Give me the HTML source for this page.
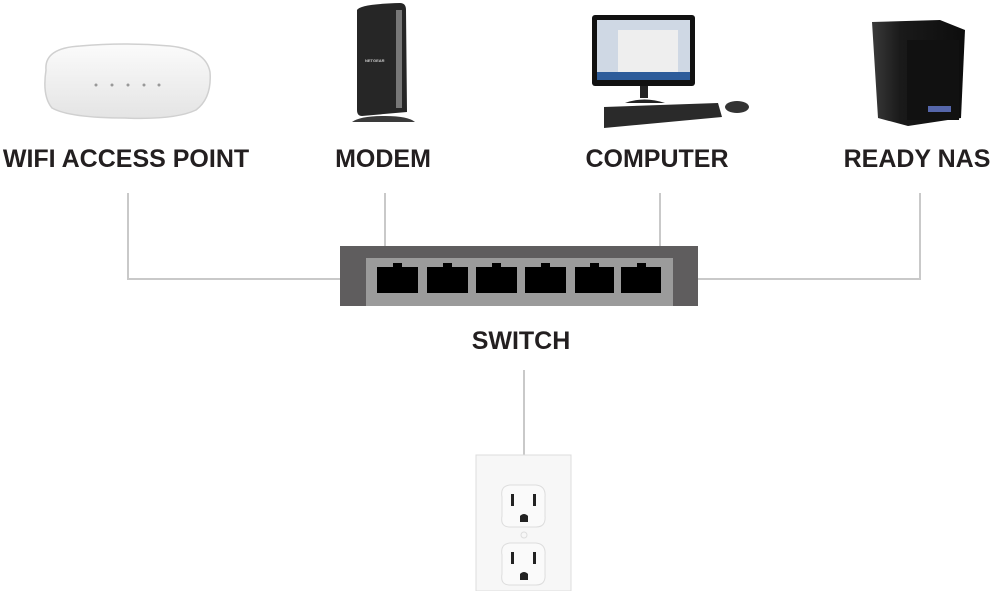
<!DOCTYPE html>
<html><head><meta charset="utf-8"><style>
html,body{margin:0;padding:0;background:#fff;}
svg{display:block;}
text{font-family:"Liberation Sans",sans-serif;font-weight:bold;fill:#231f20;font-size:25px;}
</style></head><body>
<svg width="995" height="591" viewBox="0 0 995 591" xmlns="http://www.w3.org/2000/svg">
<defs>
<linearGradient id="ap" x1="0" y1="0" x2="0" y2="1"><stop offset="0" stop-color="#fbfbfb"/><stop offset="1" stop-color="#e4e4e4"/></linearGradient>
<linearGradient id="nas" x1="0" y1="0" x2="1" y2="0"><stop offset="0" stop-color="#3a3a3a"/><stop offset="0.3" stop-color="#1a1a1a"/><stop offset="1" stop-color="#0d0d0d"/></linearGradient>
</defs>
<!-- connectors -->
<g stroke="#c9c9c9" stroke-width="2" fill="none">
<polyline points="128,193 128,279 340,279"/>
<line x1="385" y1="193" x2="385" y2="246"/>
<line x1="660" y1="193" x2="660" y2="246"/>
<polyline points="920,193 920,279 698,279"/>
<line x1="524" y1="370" x2="524" y2="456"/>
</g>
<!-- wifi AP -->
<path d="M46,70 Q44,48 80,46 Q125,42 170,46 Q206,50 210,72 Q212,98 196,110 Q175,120 125,118 Q70,118 52,108 Q42,96 46,70 Z" fill="url(#ap)" stroke="#d0d0d0" stroke-width="1.5"/>
<g fill="#999"><circle cx="96" cy="85" r="1.5"/><circle cx="112" cy="85" r="1.5"/><circle cx="128" cy="85" r="1.5"/><circle cx="144" cy="85" r="1.5"/><circle cx="159" cy="85" r="1.5"/></g>
<!-- modem -->
<path d="M357,10 Q360,4 400,3 Q406,3 406,10 L407,112 L362,116 Q357,116 357,110 Z" fill="#262626"/>
<rect x="396" y="10" width="6" height="98" fill="#777"/>
<path d="M352,122 Q360,116 385,116 Q408,116 415,122 Z" fill="#3a3a3a"/>
<text x="365" y="62" style="font-size:4px;fill:#ccc">NETGEAR</text>
<!-- computer -->
<rect x="592" y="15" width="103" height="71" rx="3" fill="#111"/>
<rect x="597" y="20" width="93" height="60" fill="#cfd8e4"/>
<rect x="618" y="30" width="60" height="42" fill="#eee"/>
<rect x="597" y="72" width="93" height="8" fill="#2d5c9a"/>
<rect x="640" y="86" width="8" height="12" fill="#222"/>
<path d="M625,103 Q644,96 665,103 Z" fill="#222"/>
<path d="M604,107 L718,103 L722,117 L604,128 Z" fill="#2a2a2a"/>
<ellipse cx="737" cy="107" rx="12" ry="6" fill="#333"/>
<!-- NAS -->
<path d="M872,22 L940,20 L965,30 L961,118 L908,126 L878,118 Z" fill="url(#nas)"/>
<rect x="907" y="40" width="52" height="80" fill="#111"/>
<rect x="928" y="106" width="23" height="6" fill="#5566aa"/>
<!-- switch -->
<rect x="340" y="246" width="358" height="60" fill="#5f5d5e"/>
<rect x="366" y="258" width="307" height="48" fill="#9b9b9b"/>
<g fill="#000">
<rect x="377" y="267" width="41" height="26"/><rect x="393" y="263" width="9" height="5"/>
<rect x="427" y="267" width="41" height="26"/><rect x="443" y="263" width="9" height="5"/>
<rect x="476" y="267" width="41" height="26"/><rect x="492" y="263" width="9" height="5"/>
<rect x="525" y="267" width="41" height="26"/><rect x="541" y="263" width="9" height="5"/>
<rect x="575" y="267" width="39" height="26"/><rect x="590" y="263" width="9" height="5"/>
<rect x="621" y="267" width="40" height="26"/><rect x="637" y="263" width="9" height="5"/>
</g>
<!-- labels -->
<text x="126" y="167" text-anchor="middle">WIFI ACCESS POINT</text>
<text x="383" y="167" text-anchor="middle">MODEM</text>
<text x="657" y="167" text-anchor="middle">COMPUTER</text>
<text x="917" y="167" text-anchor="middle">READY NAS</text>
<text x="521" y="349" text-anchor="middle">SWITCH</text>
<!-- outlet -->
<rect x="476" y="455" width="95" height="136" fill="#f7f7f7" stroke="#dcdcdc" stroke-width="1"/>
<path d="M502,497 Q500,486 510,485 L536,485 Q546,486 545,497 L545,516 Q546,527 536,527 L510,527 Q500,527 502,516 Z" fill="#fafafa" stroke="#ddd"/>
<path d="M502,555 Q500,544 510,543 L536,543 Q546,544 545,555 L545,574 Q546,585 536,585 L510,585 Q500,585 502,574 Z" fill="#fafafa" stroke="#ddd"/>
<circle cx="524" cy="535" r="3" fill="none" stroke="#ddd"/>
<g fill="#222">
<rect x="511" y="494" width="3" height="12"/><rect x="533" y="494" width="3" height="12"/>
<path d="M520,522 L520,516 Q524,512 528,516 L528,522 Z"/>
<rect x="511" y="552" width="3" height="12"/><rect x="533" y="552" width="3" height="12"/>
<path d="M520,580 L520,574 Q524,570 528,574 L528,580 Z"/>
</g>
</svg>
</body></html>
